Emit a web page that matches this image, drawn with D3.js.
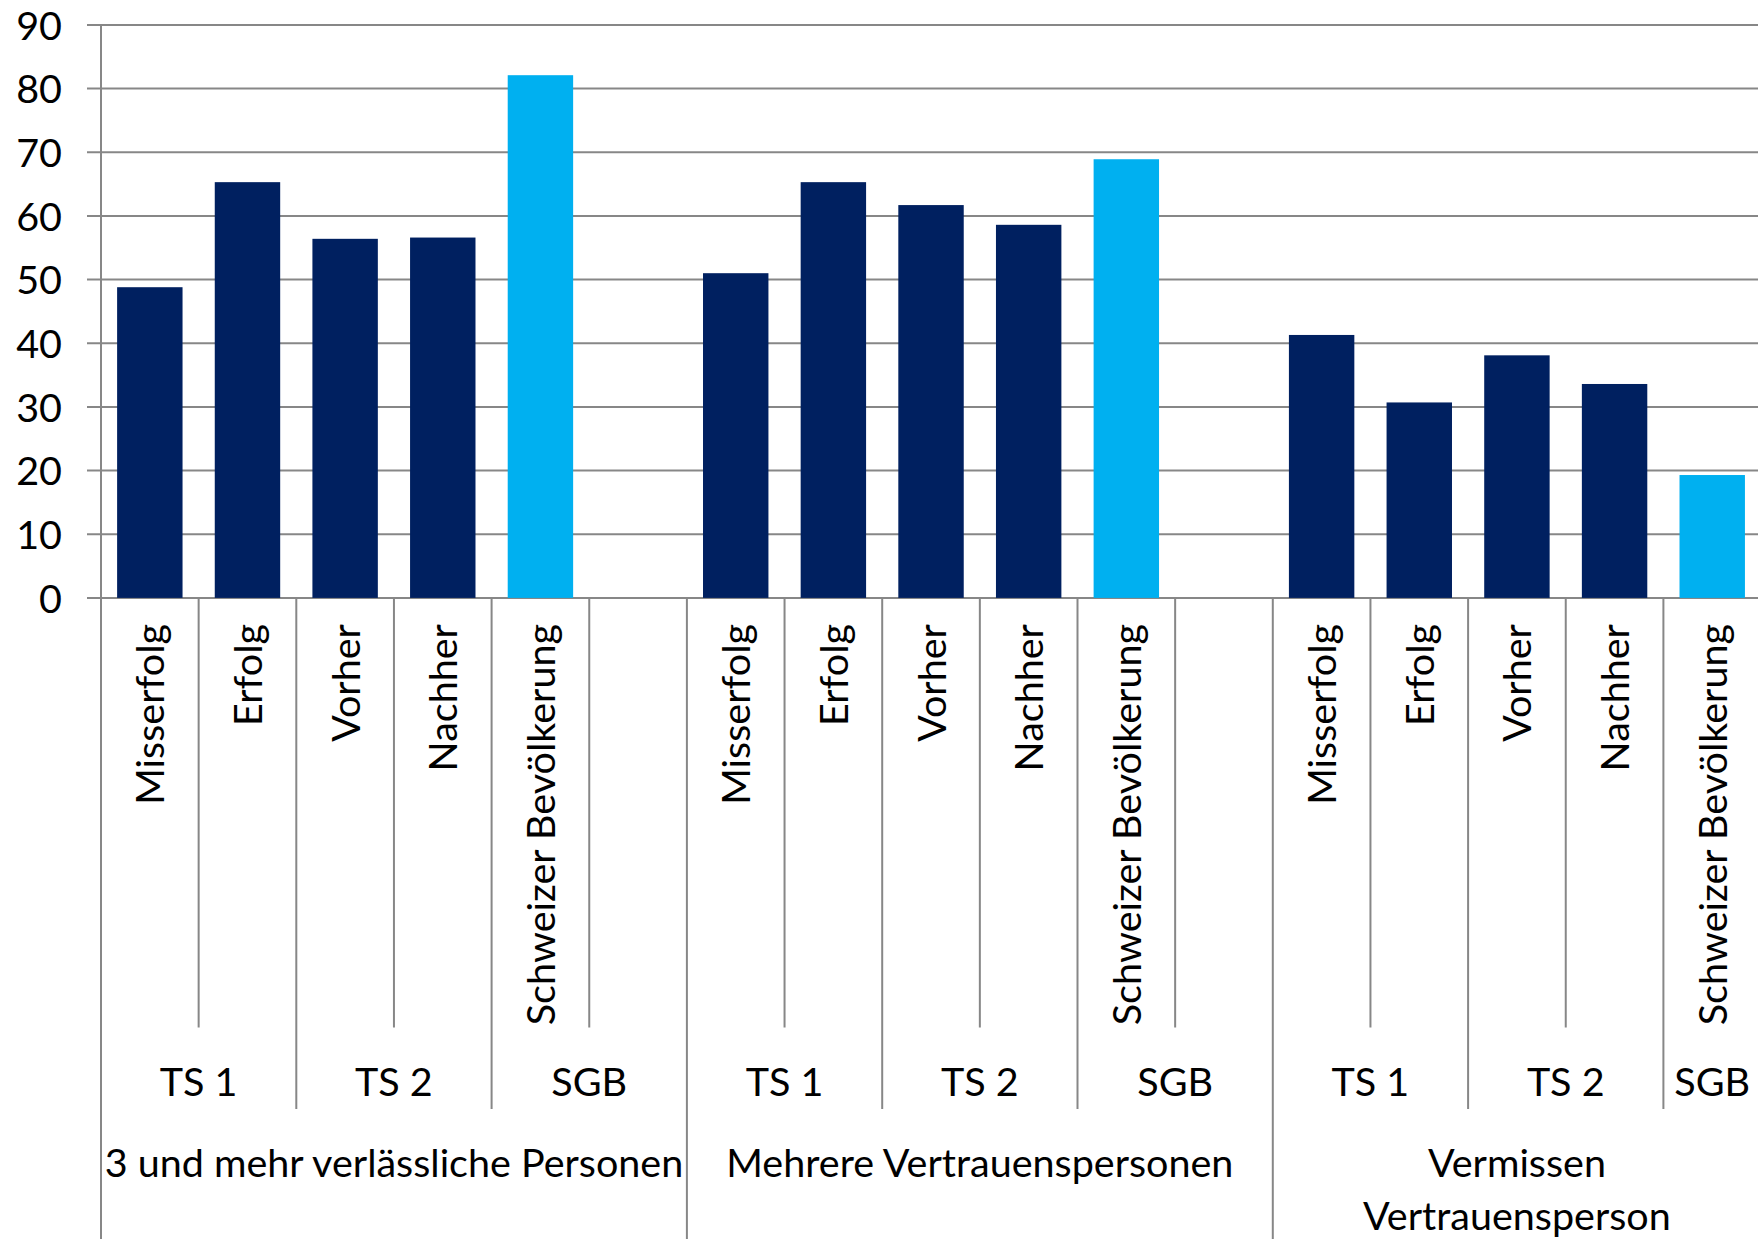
<!DOCTYPE html>
<html>
<head>
<meta charset="utf-8">
<script src="https://cdn.jsdelivr.net/npm/d3@7"></script>
<style>
  html, body { margin: 0; padding: 0; background: #ffffff; }
  svg { display: block; }
  text { font-family: Lato, "Open Sans", sans-serif; fill: #000; }
</style>
</head>
<body>
<svg id="chart" width="1758" height="1239"></svg>
<script>
// ---- data ----
const groupLabels = [["3 und mehr verlässliche Personen"], ["Mehrere Vertrauenspersonen"], ["Vermissen", "Vertrauensperson"]];
const subLabels = [["TS 1", "TS 2", "SGB"], ["TS 1", "TS 2", "SGB"], ["TS 1", "TS 2", "SGB"]];
const subSizes = [[2, 2, 2], [2, 2, 2], [2, 2, 1]];
const leafLabels1 = ["Misserfolg", "Erfolg", "Vorher", "Nachher", "Schweizer Bevölkerung", ""];
const leafLabels2 = ["Misserfolg", "Erfolg", "Vorher", "Nachher", "Schweizer Bevölkerung", ""];
const leafLabels3 = ["Misserfolg", "Erfolg", "Vorher", "Nachher", "Schweizer Bevölkerung"];
const values1 = [48.8, 65.3, 56.4, 56.6, 82.1, null];
const values2 = [51.0, 65.3, 61.7, 58.6, 68.9, null];
const values3 = [41.3, 30.7, 38.1, 33.6, 19.3];
const highlight = ["Schweizer Bevölkerung"];
const yTicks = [0, 10, 20, 30, 40, 50, 60, 70, 80, 90];

// ---- layout ----
const W = 1758, H = 1239;
const x0 = 101, step = 97.65;
const FS = 39.5;
const leaves = [];
[leafLabels1, leafLabels2, leafLabels3].forEach((arr, g) => {
  const vals = [values1, values2, values3][g];
  arr.forEach((lab, i) => leaves.push({ g, label: lab, value: vals[i], idx: leaves.length }));
});
const n = leaves.length;

const svg = d3.select("#chart");
const x = d3.scaleBand()
  .domain(leaves.map(d => d.idx))
  .range([x0, x0 + n * step])
  .paddingInner(0.33)
  .paddingOuter(0.165);
const y = d3.scaleLinear().domain([0, 90]).range([597.9, 24.9]);

const gridColor = "#878787";

// gridlines
svg.append("g").selectAll("line").data(yTicks).join("line")
  .attr("x1", x0 - 14).attr("x2", W)
  .attr("y1", d => y(d)).attr("y2", d => y(d))
  .attr("stroke", gridColor).attr("stroke-width", 2);

// y axis labels
const yAxis = d3.axisLeft(y).tickValues(yTicks).tickSize(0).tickPadding(0);
const ya = svg.append("g").attr("transform", `translate(62,0)`).call(yAxis);
ya.select(".domain").remove();
ya.selectAll("text").attr("font-size", FS).attr("font-family", "Lato").attr("fill", "#000")
  .attr("dy", "0.36em");

// bars
svg.append("g").selectAll("rect").data(leaves.filter(d => d.value != null)).join("rect")
  .attr("x", d => x(d.idx))
  .attr("width", x.bandwidth())
  .attr("y", d => y(d.value))
  .attr("height", d => y(0) - y(d.value))
  .attr("fill", d => highlight.includes(d.label) ? "#00B0F0" : "#002060");

// boundaries
const groupBounds = new Set();
const subBounds = new Set();
let k = 0;
subSizes.forEach((sizes) => {
  sizes.forEach(s => { k += s; subBounds.add(k); });
  groupBounds.add(k);
});
const bounds = d3.range(0, n + 1).map(b => ({
  b,
  bottom: (b === 0 || groupBounds.has(b)) ? H : (subBounds.has(b) ? 1109 : 1027.5)
}));
svg.append("g").selectAll("line").data(bounds).join("line")
  .attr("x1", d => x0 + d.b * step).attr("x2", d => x0 + d.b * step)
  .attr("y1", d => d.b === 0 ? y(90) : y(0))
  .attr("y2", d => d.bottom)
  .attr("stroke", gridColor).attr("stroke-width", 2);

// leaf labels
svg.append("g").selectAll("text").data(leaves.filter(d => d.label)).join("text")
  .attr("transform", d => `translate(${x(d.idx) + x.bandwidth() / 2 + 14.5},624) rotate(-90)`)
  .attr("text-anchor", "end")
  .attr("font-size", FS)
  .text(d => d.label);

// sub-group labels
const subs = [];
k = 0;
subSizes.forEach((sizes, g) => {
  sizes.forEach((s, j) => {
    subs.push({ label: subLabels[g][j], center: x0 + (k + s / 2) * step });
    k += s;
  });
});
svg.append("g").selectAll("text").data(subs).join("text")
  .attr("x", d => d.center).attr("y", 1095.5)
  .attr("text-anchor", "middle").attr("font-size", FS)
  .text(d => d.label);

// group labels
const grps = [];
k = 0;
subSizes.forEach((sizes, g) => {
  const s = d3.sum(sizes);
  grps.push({ lines: groupLabels[g], center: x0 + (k + s / 2) * step });
  k += s;
});
const gt = svg.append("g").selectAll("text").data(grps).join("text")
  .attr("x", d => d.center).attr("y", 1177)
  .attr("text-anchor", "middle").attr("font-size", FS);
gt.selectAll("tspan").data(d => d.lines.map(l => ({ l, c: d.center }))).join("tspan")
  .attr("x", d => d.c)
  .attr("dy", (d, i) => i === 0 ? 0 : 52.5)
  .text(d => d.l);
</script>
</body>
</html>
